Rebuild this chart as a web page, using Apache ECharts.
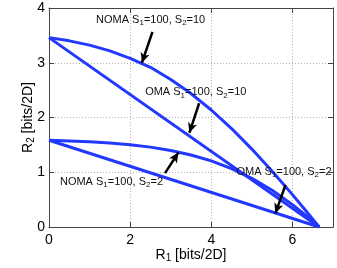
<!DOCTYPE html>
<html><head><meta charset="utf-8">
<script src="https://cdn.jsdelivr.net/npm/echarts@6/dist/echarts.min.js"></script>
<style>html,body{margin:0;padding:0;background:#fff}#c{width:337px;height:268px}</style>
</head><body><div id="c"></div>
<script>
// R1 sample points (bits/2D) and R2 values
var nomaR1 = [0, 0.5, 1, 1.5, 2, 2.5, 3, 3.5, 4, 4.5, 5, 5.5, 6, 6.3, 6.658];
var nomaS10R2 = [3.459, 3.400, 3.322, 3.217, 3.081, 2.917, 2.694, 2.437, 2.137, 1.798, 1.423, 1.019, 0.591, 0.325, 0];
var nomaS2R2 = [1.585, 1.573, 1.556, 1.533, 1.501, 1.459, 1.396, 1.314, 1.207, 1.066, 0.889, 0.670, 0.409, 0.231, 0];
var omaR1 = [0, 6.658];
var omaS10R2 = [3.459, 0];
var omaS2R2 = [1.585, 0];
var xTicks = [0, 2, 4, 6];
var yTicks = [0, 1, 2, 3, 4];
// annotations
var annotNames = ['NOMA', 'OMA', 'NOMA', 'OMA'];
var annotS2 = ['10', '10', '2', '2'];
var annotText = [[1.16, 3.78], [2.37, 2.46], [0.27, 0.83], [4.62, 1.0]];
var annotFrom = [[2.55, 3.565], [3.70, 2.26], [2.86, 0.985], [5.83, 0.77]];
var annotTo = [[2.29, 3.00], [3.46, 1.72], [3.19, 1.36], [5.58, 0.25]];

function pairs(xs, ys) { return xs.map(function (x, i) { return [x, ys[i]]; }); }
var blue = '#2238ff';
var font = 'Liberation Sans, Arial, Helvetica, sans-serif';
function lineSeries(xs, ys) {
  return { type: 'line', data: pairs(xs, ys), showSymbol: false, symbol: 'none', smooth: false,
    lineStyle: { color: blue, width: 3 }, silent: true, animation: false, z: 3 };
}
var rich = {
  n: { fontSize: 11, fontFamily: font, color: '#111', lineHeight: 14 },
  s: { fontSize: 8, fontFamily: font, color: '#111', lineHeight: 14, verticalAlign: 'bottom', padding: [6, 0, 0, 0] }
};
var markPts = annotText.map(function (p, i) {
  return { coord: p, value: 0, label: { formatter: '{n|' + annotNames[i] + ' S}{s|1}{n|=100, S}{s|2}{n|=' + annotS2[i] + '}' } };
});
var markLns = annotFrom.map(function (p, i) { return [{ coord: p }, { coord: annotTo[i] }]; });

var axisLineStyle = { color: '#444', width: 1 };
var option = {
  animation: false,
  grid: { left: 49, right: 4, top: 8, bottom: 41, containLabel: false },
  xAxis: [{
    type: 'value', min: 0, max: 7, interval: 2, position: 'bottom',
    axisLine: { show: true, onZero: false, lineStyle: axisLineStyle },
    axisTick: { show: true, inside: true, length: 5, lineStyle: axisLineStyle },
    axisLabel: { color: '#000', fontSize: 14, fontFamily: font, margin: 6, showMaxLabel: false },
    splitLine: { show: true, lineStyle: { color: '#b5b5b5', type: [1, 2], width: 1 } },
    name: '{n|R}{s|1}{n| [bits/2D]}', nameLocation: 'middle', nameGap: 20, nameMoveOverlap: false,
    nameTextStyle: { rich: {
      n: { fontSize: 14, fontFamily: font, color: '#000', lineHeight: 16 },
      s: { fontSize: 10, fontFamily: font, color: '#000', lineHeight: 16, verticalAlign: 'bottom', padding: [8, 0, 0, 0] } } }
  }, {
    type: 'value', min: 0, max: 7, interval: 2, position: 'top',
    axisLine: { show: true, onZero: false, lineStyle: axisLineStyle },
    axisTick: { show: true, inside: true, length: 5, lineStyle: axisLineStyle },
    axisLabel: { show: false }, splitLine: { show: false }
  }],
  yAxis: [{
    type: 'value', min: 0, max: 4, interval: 1, position: 'left',
    axisLine: { show: true, onZero: false, lineStyle: axisLineStyle },
    axisTick: { show: true, inside: true, length: 5, lineStyle: axisLineStyle },
    axisLabel: { color: '#000', fontSize: 14, fontFamily: font, margin: 4 },
    splitLine: { show: true, lineStyle: { color: '#b5b5b5', type: [1, 2], width: 1 } },
    name: '{n|R}{s|2}{n| [bits/2D]}', nameLocation: 'middle', nameGap: 13, nameRotate: 90, nameMoveOverlap: false,
    nameTextStyle: { rich: {
      n: { fontSize: 14, fontFamily: font, color: '#000', lineHeight: 16 },
      s: { fontSize: 10, fontFamily: font, color: '#000', lineHeight: 16, verticalAlign: 'bottom', padding: [8, 0, 0, 0] } } }
  }, {
    type: 'value', min: 0, max: 4, interval: 1, position: 'right',
    axisLine: { show: true, onZero: false, lineStyle: axisLineStyle },
    axisTick: { show: true, inside: true, length: 5, lineStyle: axisLineStyle },
    axisLabel: { show: false }, splitLine: { show: false }
  }],
  series: [
    lineSeries(nomaR1, nomaS10R2),
    lineSeries(omaR1, omaS10R2),
    lineSeries(nomaR1, nomaS2R2),
    lineSeries(omaR1, omaS2R2),
    {
      type: 'line', data: [], silent: true, animation: false, z: 5,
      markPoint: {
        symbol: 'circle', symbolSize: 0, silent: true, animation: false,
        label: { show: true, position: 'right', distance: 0, rich: rich },
        data: markPts
      },
      markLine: {
        symbol: ['none', 'arrow'], symbolSize: [7, 10], silent: true, animation: false,
        label: { show: false },
        lineStyle: { color: '#000', width: 2.5, type: 'solid' },
        data: markLns
      }
    }
  ]
};
var chart = echarts.init(document.getElementById('c'), null, { renderer: 'canvas' });
chart.setOption(option);
</script></body></html>
